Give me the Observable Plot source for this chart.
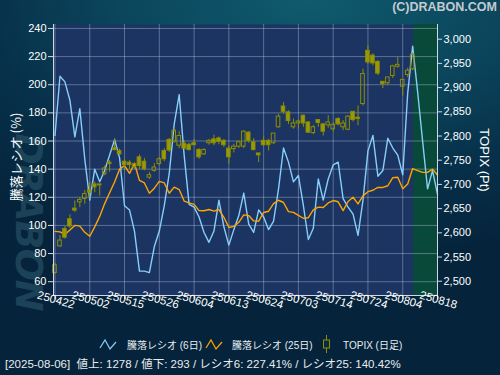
<!DOCTYPE html>
<html><head><meta charset="utf-8">
<script src="https://cdn.jsdelivr.net/npm/d3@7"></script>
<script src="https://cdn.jsdelivr.net/npm/@observablehq/plot@0.6"></script>
<style>
html,body{margin:0;padding:0;background:#05233a;}
#wrap{position:relative;width:500px;height:375px;overflow:hidden;
 background:radial-gradient(ellipse 95% 70% at 62% 0%, #0f5a6e 0%, #0b465c 40%, #07304a 70%, #05243b 100%);
 font-family:"Liberation Sans","Noto Sans CJK JP",sans-serif;color:#fff;}
#chart{position:absolute;left:0;top:0;}
.rot{position:absolute;white-space:nowrap;transform:translate(-50%,-50%) rotate(-90deg);}
#wm{position:absolute;left:29px;top:222px;transform:translate(-50%,-50%) rotate(90deg);font:bold italic 38px "DejaVu Sans",sans-serif;color:#2b5669;opacity:.6;white-space:nowrap;letter-spacing:-1px;}
#copy{position:absolute;right:3px;top:0px;font:bold 12.5px "Liberation Sans",sans-serif;color:#c3cbd0;}
#ytitle{left:15px;top:157px;font-size:13px;font-family:"Noto Sans CJK JP",sans-serif;}
#y2title{left:484px;top:160px;font-size:13px;transform:translate(-50%,-50%) rotate(90deg);}
#legend{position:absolute;left:0;top:333px;width:500px;height:22px;font-size:10px;color:#e6ecf0;}
.lg{position:absolute;top:0;height:22px;display:flex;align-items:center;white-space:nowrap;}
#footer{position:absolute;left:5px;top:356px;font-size:11.5px;color:#e8ecee;white-space:pre;line-height:16px;}
</style></head><body>
<div id="wrap">
 <div id="wm">DRABON</div>
 <div id="copy">(C)DRABON.COM</div>
 <div id="chart"></div>
 <div id="ytitle" class="rot"></div>
 <div id="y2title" class="rot"></div>
 <div id="legend"></div>
 <div id="footer"></div>
</div>
<script>
// ---- data ----
const tickDays = [0,7,14,21,28,35,42,49,56,63,70,77];
const tickLabels = ["250422","250502","250515","250526","250604","250613","250624","250703","250714","250724","250804","250818"];
const leftTicks = [60,80,100,120,140,160,180,200,220,240];
const rightTicks = [2500,2550,2600,2650,2700,2750,2800,2850,2900,2950,3000];

const ratio6 = [164,206,202,189,163,183,147,118,140,131,
 139,150,161,148,114,111,96,67.5,67.5,66.5,
 85,96,114,137,172,193,150,115,113,106,
 95,88,96,118,99,86,97,107,123,101,
 95,111,106,97,103,126,155,145,131,135.5,
 114,90,98,133,118,133,143,145,119,113,
 108,93,118,153,164,135,139,162,155,150,
 136,194,227.41,195,160,126,139,122];

const ratio25 = [95.8,95.4,93.6,96.8,100,99.5,95.1,92.3,99,106.4,
 115.5,123.2,130.9,140,142.5,137,144,132,130.2,122.9,
 126.5,131.3,130.2,122.9,127.2,125.5,117.3,116,115,110.5,
 110.4,111.3,110.2,111.3,105.8,98.5,99.3,102.2,107.5,107,
 103.2,103,109.2,110.1,115.5,117.9,116.3,109.8,109.3,107.1,
 105.1,105.5,111,113,112.7,116,117.7,116.8,110.5,117,
 120,115.3,121,124,125,127,127,128.2,134,134.2,
 126,129.5,140.42,138.9,137.7,137.7,140,135.8];

const topixOpen = [2517,2572,2608,2628,2650,2663,2670,2688,2700,2700,
 2721,2745,2775,2769,2747,2745,2735,2756,2747,2714,
 2728,2742,2769,2792,2788,2780,2784,2782,2785,2771,
 2762,2785,2793,2795,2790,2774,2773,2778,2778,2807,
 2787,2764,2790,2790,2785,2818,2861,2849,2818,2826,
 2842,2828,2806,2833,2824,2822,2814,2835,2818,2813,
 2850,2838,2866,2976,2966,2953,2912,2909,2924,2943,
 2902,2926,2938];
const topixHigh = [2537,2594,2613,2637,2666,2673,2687,2704,2705,2700,
 2738,2749,2795,2773,2752,2749,2745,2761,2754,2725,
 2743,2756,2774,2795,2816,2809,2790,2785,2793,2774,
 2774,2793,2802,2798,2793,2780,2783,2790,2811,2809,
 2795,2764,2798,2793,2805,2845,2869,2852,2835,2833,
 2843,2829,2822,2833,2826,2842,2828,2838,2832,2842,
 2850,2862,2938,2986,2970,2956,2912,2921,2946,2962,
 2917,2940,2971];
const topixLow = [2514,2570,2587,2609,2642,2652,2659,2670,2683,2676,
 2718,2725,2769,2759,2735,2731,2731,2731,2728,2710,
 2725,2738,2747,2766,2785,2774,2772,2769,2780,2752,
 2760,2781,2780,2782,2776,2742,2765,2774,2774,2785,
 2769,2745,2778,2769,2783,2816,2845,2824,2814,2814,
 2818,2805,2803,2818,2800,2816,2809,2821,2811,2811,
 2829,2821,2862,2948,2945,2925,2898,2904,2919,2940,
 2883,2921,2935];
const topixClose = [2533,2584,2590,2613,2646,2668,2680,2683,2694,2698,
 2733,2742,2771,2762,2740,2740,2742,2738,2731,2719,
 2735,2752,2752,2770,2811,2800,2774,2771,2781,2756,
 2771,2790,2785,2788,2781,2756,2778,2787,2809,2790,
 2771,2760,2781,2781,2805,2840,2850,2831,2826,2830,
 2826,2807,2818,2827,2809,2828,2823,2824,2826,2840,
 2833,2835,2928,2952,2950,2929,2907,2921,2944,2947,
 2916,2935,2968];

const lastIndex = 72;
const lastDate = "2025-08-06";
const advances = 1278;
const declines = 293;
const legendLabels = ["騰落レシオ (6日)", "騰落レシオ (25日)", "TOPIX (日足)"];
const leftTitle = "騰落レシオ (%)";
const rightTitle = "TOPIX (Pt)";

// ---- scales ----
const xDomain = [-0.3, 77];
const yDomain = [50.2, 242.8];
const tDomain = [2470.5, 3030.4];
const toY = t => yDomain[0] + (t - tDomain[0]) / (tDomain[1] - tDomain[0]) * (yDomain[1] - yDomain[0]);
const fromY = v => tDomain[0] + (v - yDomain[0]) / (yDomain[1] - yDomain[0]) * (tDomain[1] - tDomain[0]);

const C6 = "#87cefa", C25 = "#ffa500", OLIVE = "#8e8e00", OLIVEF = "#9a9a06";
const AX = "#cfd8e6";
const candles = topixOpen.map((o, i) => ({i, o, h: topixHigh[i], l: topixLow[i], c: topixClose[i]}));
const future = [{from: lastIndex + 0.2, to: xDomain[1]}];

const chart = Plot.plot({
  width: 500, height: 375,
  marginTop: 24, marginBottom: 80, marginLeft: 53, marginRight: 63,
  style: {background: "transparent", color: "#fff", fontFamily: "'Liberation Sans','Noto Sans CJK JP',sans-serif", fontSize: "11px"},
  x: {domain: xDomain},
  y: {domain: yDomain},
  marks: [
    Plot.frame({fill: "#1b3462", stroke: null}),
    Plot.rect(future, {x1: "from", x2: "to", y1: () => yDomain[0], y2: () => yDomain[1], fill: "#08493a"}),
    Plot.gridY(leftTicks, {stroke: "#c8d4ea", strokeOpacity: 0.38}),
    Plot.gridX(tickDays, {stroke: "#c8d4ea", strokeOpacity: 0.38}),
    Plot.line(ratio6, {x: (d, i) => i, y: d => d, stroke: C6, strokeWidth: 1.4}),
    Plot.line(ratio25, {x: (d, i) => i, y: d => d, stroke: C25, strokeWidth: 1.4}),
    Plot.ruleX(candles, {x: "i", y1: d => toY(d.h), y2: d => toY(Math.max(d.o, d.c)), stroke: OLIVE}),
    Plot.ruleX(candles, {x: "i", y1: d => toY(Math.min(d.o, d.c)), y2: d => toY(d.l), stroke: OLIVE}),
    Plot.rect(candles, {filter: d => d.c > d.o, x1: d => d.i - 0.36, x2: d => d.i + 0.36, y1: d => toY(d.o), y2: d => toY(d.c), fill: "none", stroke: OLIVE}),
    Plot.rect(candles, {filter: d => d.c <= d.o, x1: d => d.i - 0.36, x2: d => d.i + 0.36, y1: d => toY(d.o), y2: d => toY(d.c), fill: OLIVEF, stroke: OLIVE}),
    Plot.ruleX([xDomain[0]], {stroke: AX}),
    Plot.ruleX([xDomain[1]], {stroke: AX}),
    Plot.ruleY([yDomain[0]], {stroke: AX}),
    Plot.axisY(leftTicks, {anchor: "left", tickSize: 5, tickPadding: 2, stroke: AX, fill: "#fff", fontSize: 11, label: null}),
    Plot.axisY(rightTicks.map(toY), {anchor: "right", tickSize: 4, tickPadding: 2, stroke: AX, fill: "#fff", fontSize: 11, label: null,
      tickFormat: v => d3.format(",")(Math.round(fromY(v) / 50) * 50)}),
    Plot.axisX(tickDays, {anchor: "bottom", tickSize: 4, stroke: AX, tickFormat: () => "", label: null}),
    Plot.text(tickDays, {x: d => d, frameAnchor: "bottom", dy: 8, rotate: 16, text: (d, i) => tickLabels[i], fill: "#fff", fontSize: 11.5, textAnchor: "middle"})
  ]
});
document.getElementById("chart").appendChild(chart);

document.getElementById("ytitle").textContent = leftTitle;
document.getElementById("y2title").textContent = rightTitle;

const lg = document.getElementById("legend");
const icons = [
  `<svg width="20" height="14"><polyline points="1,11 6,3 11,12 17,5" fill="none" stroke="${C6}" stroke-width="1.2"/></svg>`,
  `<svg width="20" height="14"><polyline points="1,11 6,3 11,12 17,5" fill="none" stroke="${C25}" stroke-width="1.2"/></svg>`,
  `<svg width="10" height="20"><line x1="4.5" y1="1" x2="4.5" y2="19" stroke="${OLIVE}"/><rect x="1.5" y="6" width="6" height="8" fill="#082a42" stroke="${OLIVE}"/></svg>`
];
const iconLeft = [99, 205, 322];
const textLeft = [127, 232, 343];
legendLabels.forEach((t, k) => {
  const a = document.createElement("span"); a.className = "lg"; a.style.left = iconLeft[k] + "px"; a.innerHTML = icons[k]; lg.appendChild(a);
  const b = document.createElement("span"); b.className = "lg"; b.style.left = textLeft[k] + "px"; b.textContent = t; lg.appendChild(b);
});

document.getElementById("footer").textContent =
  `[${lastDate}]  値上: ${advances} / 値下: ${declines} / レシオ6: ${ratio6[lastIndex].toFixed(2)}% / レシオ25: ${ratio25[lastIndex].toFixed(2)}%`;
</script>
</body></html>
